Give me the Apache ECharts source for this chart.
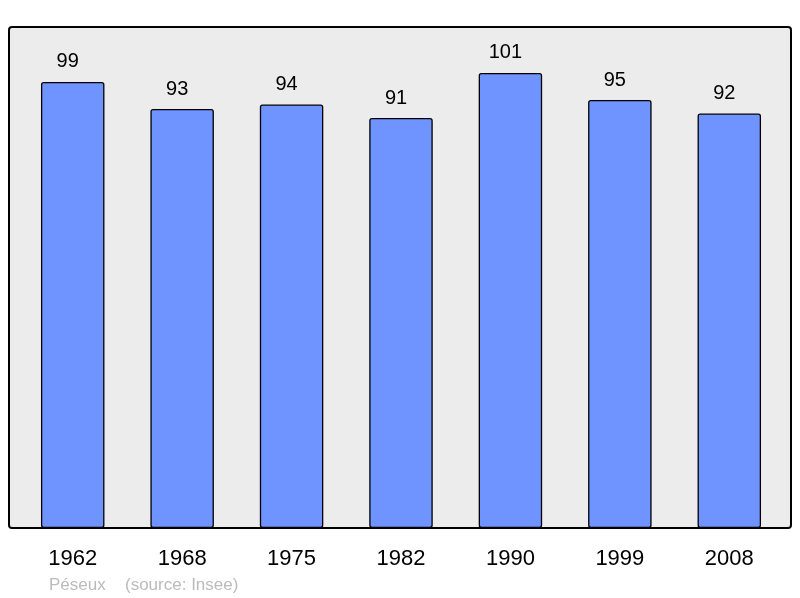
<!DOCTYPE html>
<html><head><meta charset="utf-8">
<script src="https://cdn.jsdelivr.net/npm/echarts@6/dist/echarts.min.js"></script>
<style>html,body{margin:0;padding:0;background:#fff}#c{width:800px;height:598px}</style>
</head><body><div id="c"></div>
<script>
const years = ['1962','1968','1975','1982','1990','1999','2008'];
const population = [99, 93, 94, 91, 101, 95, 92];
const placeName = 'Péseux';
const sourceNote = '(source: Insee)';

const chart = echarts.init(document.getElementById('c'), null, {renderer:'canvas'});
chart.setOption({
  animation: false,
  backgroundColor: '#ffffff',
  graphic: [
    {type:'rect', z:-10, shape:{x:9, y:27, width:782, height:501, r:3},
     style:{fill:'#ececec', stroke:'#000', lineWidth:2}},
    {type:'text', left:49, top:577, style:{text:placeName, fill:'#bbbbbb', font:'17px "Liberation Sans", Arial, sans-serif'}},
    {type:'text', left:125, top:577, style:{text:sourceNote, fill:'#bbbbbb', font:'17px "Liberation Sans", Arial, sans-serif'}}
  ],
  grid: {left:18, right:16, top:27, bottom:70, containLabel:false},
  xAxis: {
    type:'category', data: years,
    axisLine:{show:false}, axisTick:{show:false},
    axisLabel:{color:'#000', fontSize:22, fontFamily:'"Liberation Sans", Arial, sans-serif', margin:20}
  },
  yAxis: {type:'value', min:0, max:111.2, show:false, splitLine:{show:false}},
  series: [{
    type:'bar', data: population, barWidth:'58%',
    itemStyle:{color:'#7094ff', borderColor:'#000', borderWidth:1.3, borderRadius:2},
    label:{show:true, position:'top', distance:10, offset:[-5,0], color:'#000', fontSize:20, fontFamily:'"Liberation Sans", Arial, sans-serif'}
  }]
});
</script></body></html>
